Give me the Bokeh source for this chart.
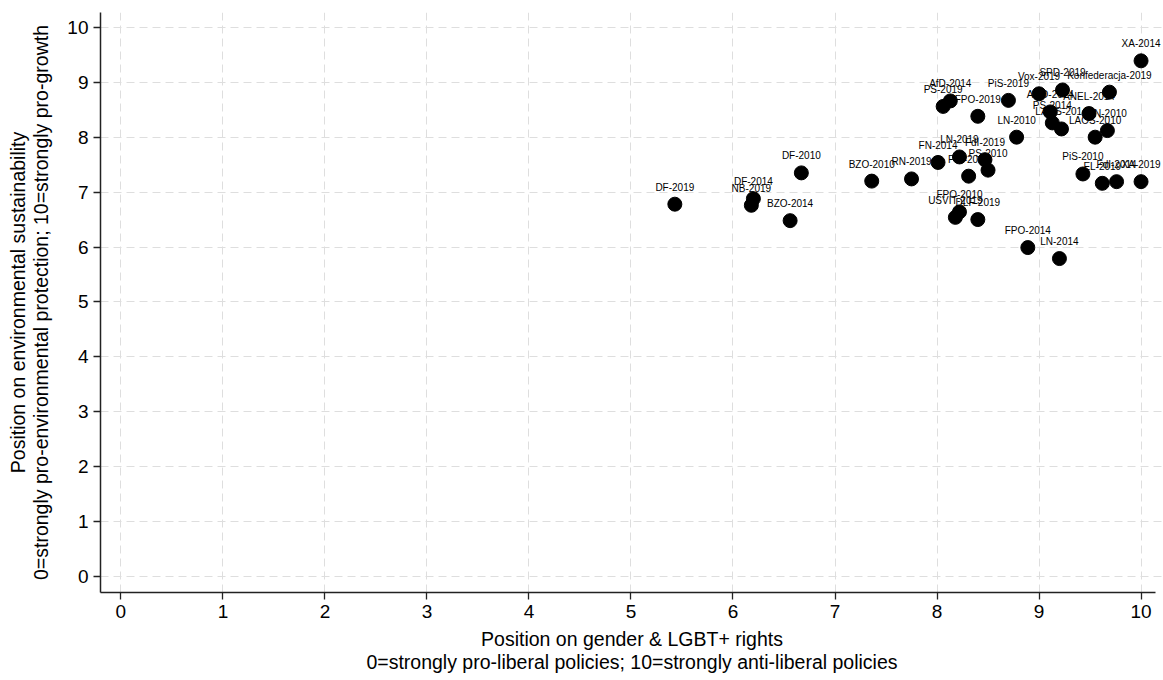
from bokeh.plotting import figure
from bokeh.models import ColumnDataSource, Range1d, FixedTicker, LabelSet
from bokeh.core.properties import value
from bokeh.embed import file_html
from bokeh.resources import INLINE

parties = ["XA-2014", "AfD-2014", "PS-2019", "FPO-2019", "PiS-2019", "Vox-2019",
           "SPD-2019", "Konfederacja-2019", "ANO-2014", "PS-2014", "LAOS-2014",
           "ANEL-2014", "LAOS-2010", "FN-2010", "LN-2010", "RN-2019", "FN-2014",
           "LN-2019", "FdI-2019", "PS-2010", "PiS-2014", "PiS-2010", "EL-2019",
           "FdI-2014", "XA-2019", "FPO-2010", "USVIT-2019", "DLF-2019", "FPO-2014",
           "LN-2014", "DF-2010", "BZO-2010", "DF-2014", "NB-2019", "BZO-2014", "DF-2019"]
gender = [10.0, 8.13, 8.06, 8.40, 8.70, 9.00,
          9.23, 9.69, 9.11, 9.13, 9.22,
          9.49, 9.55, 9.67, 8.78, 7.75, 8.01,
          8.22, 8.47, 8.50, 8.31, 9.43, 9.62,
          9.76, 10.0, 8.22, 8.18, 8.40, 8.89,
          9.20, 6.67, 7.36, 6.20, 6.18, 6.56, 5.43]
environment = [9.39, 8.66, 8.56, 8.38, 8.67, 8.79,
               8.86, 8.82, 8.46, 8.26, 8.15,
               8.43, 8.00, 8.12, 8.00, 7.24, 7.54,
               7.64, 7.59, 7.40, 7.29, 7.33, 7.16,
               7.19, 7.19, 6.64, 6.54, 6.50, 5.99,
               5.79, 7.35, 7.20, 6.88, 6.76, 6.48, 6.78]
ticks = list(range(0, 11))

FONT = "Liberation Sans"

src = ColumnDataSource(dict(x=gender, y=environment, name=parties))

p = figure(width=1163, height=680, output_backend="svg", toolbar_location=None,
           x_range=Range1d(-0.2, 10.22), y_range=Range1d(-0.29, 10.27),
           min_border_left=100, min_border_right=0, min_border_top=12,
           min_border_bottom=88)
p.outline_line_color = None
p.background_fill_color = "white"
p.border_fill_color = "white"

for ax in (p.xaxis[0], p.yaxis[0]):
    ax.ticker = FixedTicker(ticks=ticks)
    ax.minor_tick_line_color = None
    ax.major_tick_in = 0
    ax.major_tick_out = 7
    ax.major_tick_line_color = "#222222"
    ax.major_tick_line_width = 1.3
    ax.axis_line_color = "#222222"
    ax.axis_line_width = 1.5
    ax.major_label_text_font = FONT
    ax.major_label_text_font_size = "19px"
    ax.major_label_text_color = "black"
    ax.axis_label_text_font = FONT
    ax.axis_label_text_font_size = "19.5px"
    ax.axis_label_text_font_style = "normal"
    ax.axis_label_text_color = "black"
    ax.axis_label_text_line_height = 1.05

p.xaxis.bounds = (-0.2, 10.14)
p.xaxis.axis_label = "Position on gender & LGBT+ rights\n0=strongly pro-liberal policies; 10=strongly anti-liberal policies"
p.yaxis.axis_label = "Position on environmental sustainability\n0=strongly pro-environmental protection; 10=strongly pro-growth"
p.xaxis.major_label_standoff = 5
p.yaxis.major_label_standoff = 5
p.xaxis.axis_label_standoff = 7
p.yaxis.axis_label_standoff = 12

for g in (p.xgrid[0], p.ygrid[0]):
    g.ticker = FixedTicker(ticks=ticks)
    g.grid_line_color = "#dedede"
    g.grid_line_dash = "8 5"
    g.grid_line_width = 1

p.scatter("x", "y", source=src, size=14, color="black")
labels = LabelSet(x="x", y="y", text="name", source=src, text_font=value(FONT),
                  text_font_size="10px", text_color="black", text_align="center",
                  text_baseline="middle", y_offset=17)
p.add_layout(labels)

open("out.html", "w").write(file_html(p, INLINE))
